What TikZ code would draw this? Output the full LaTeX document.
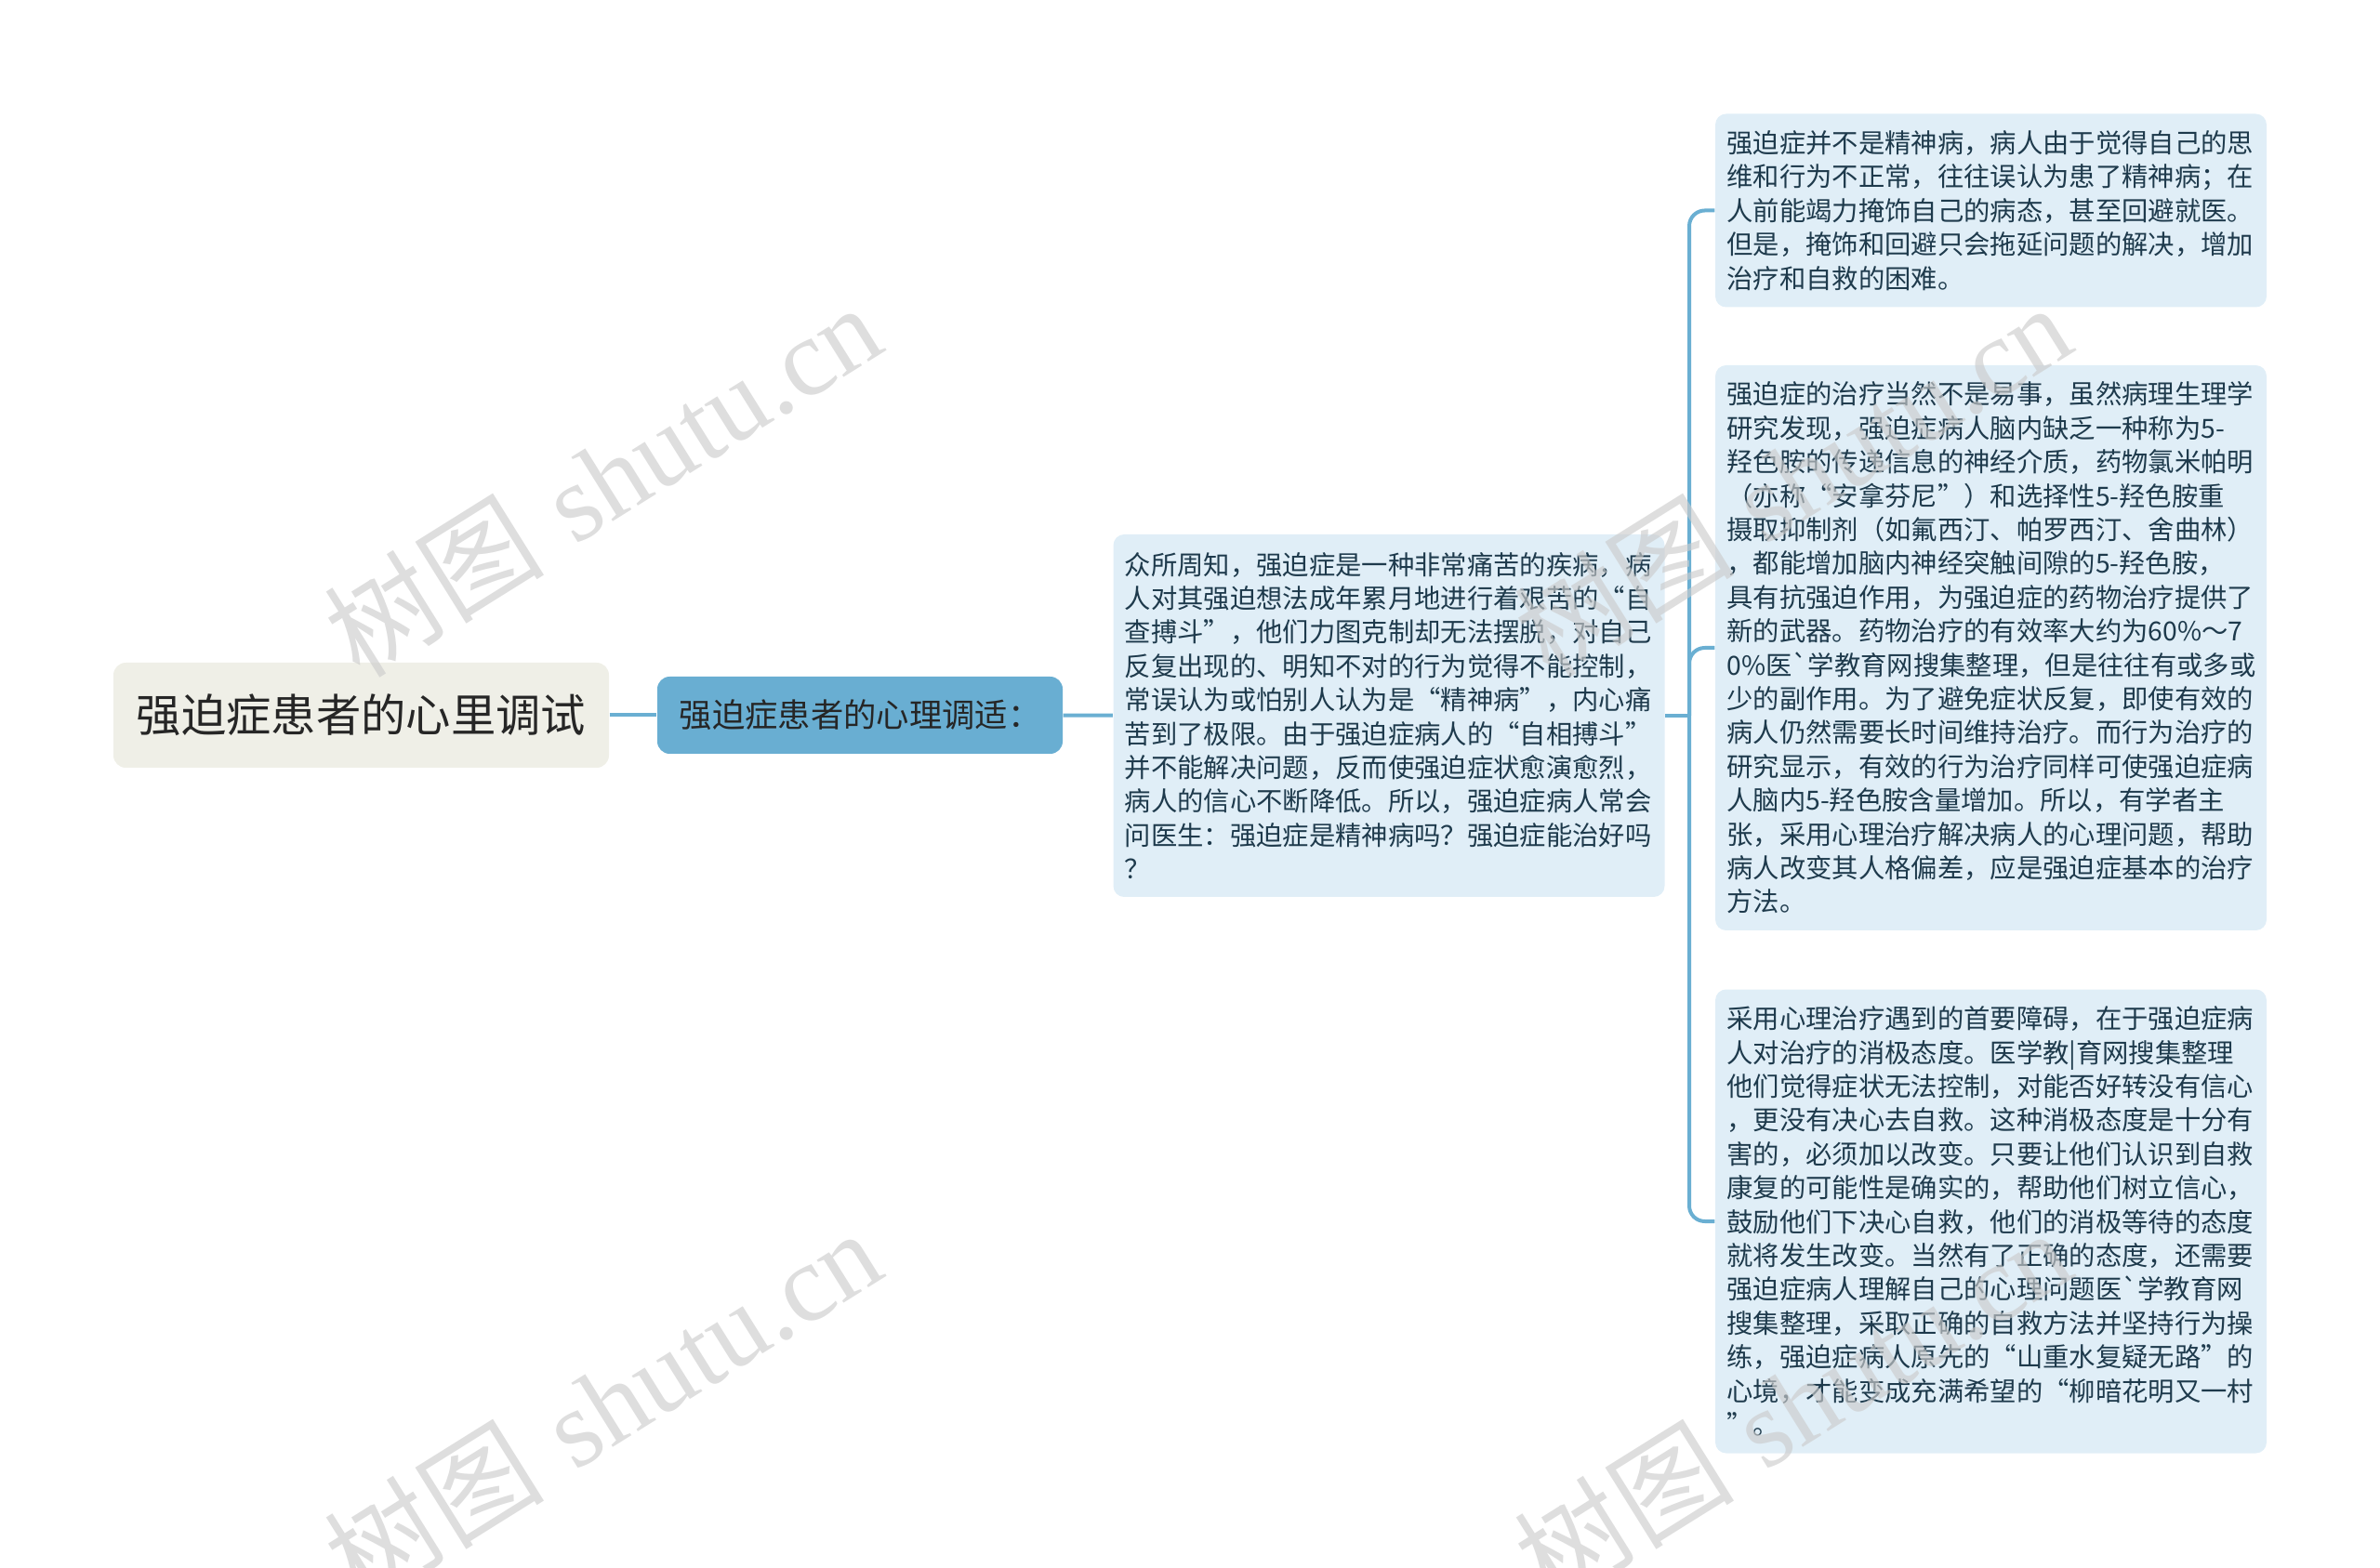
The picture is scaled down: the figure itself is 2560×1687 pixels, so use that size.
\documentclass[tikz,border=0pt]{standalone}
\usepackage{fontspec}
\usepackage{tikz}
\usetikzlibrary{positioning}
\newfontfamily\cjk{Noto Sans CJK SC}
\newfontfamily\wmlat{Liberation Serif}
\definecolor{linkblue}{HTML}{6AAFD2}
\definecolor{leaffill}{HTML}{E0EEF7}
\definecolor{leaftext}{HTML}{1E3A4C}
\definecolor{rootfill}{HTML}{EFEFE7}
\definecolor{subfill}{HTML}{69AED2}
\tikzset{
  link/.style={line width=1.2pt,draw=linkblue},
  rootnode/.style={fill=rootfill,rounded corners=4pt,minimum width=159.9pt,
    minimum height=33.9pt,inner sep=0pt,text=black!85,
    font=\cjk\fontsize{14.5}{17}\selectfont},
  subnode/.style={fill=subfill,rounded corners=4pt,minimum width=130.8pt,
    minimum height=24.9pt,inner sep=0pt,text=black!85,
    font=\cjk\fontsize{10.6}{13}\selectfont},
  leaf/.style={fill=leaffill,rounded corners=3.5pt,text width=170.5pt,
    inner xsep=3.7pt,align=left,text=leaftext,
    font=\cjk\fontsize{8.5}{10.92}\selectfont},
  wmark/.style={rotate=32,text=gray!40,opacity=0.65,
    font=\fontsize{35.5}{38}\selectfont}
}

\begin{document}
\begin{tikzpicture}[x=0.3pt,y=-0.3pt]
  \useasboundingbox (0,0) rectangle (2560,1687);
  \node[rootnode] (root) at (388.5,769.5) {强迫症患者的心里调试};
  \node[subnode] (sub) at (925,769.5) {强迫症患者的心理调适：};
  \node[leaf,minimum height=117pt] (mid) at (1494,770) {%
众所周知，强迫症是一种非常痛苦的疾病，病\\
人对其强迫想法成年累月地进行着艰苦的“自\\
查搏斗”，他们力图克制却无法摆脱，对自己\\
反复出现的、明知不对的行为觉得不能控制，\\
常误认为或怕别人认为是“精神病”，内心痛\\
苦到了极限。由于强迫症病人的“自相搏斗”\\
并不能解决问题，反而使强迫症状愈演愈烈，\\
病人的信心不断降低。所以，强迫症病人常会\\
问医生：强迫症是精神病吗？强迫症能治好吗\\
？};
  \node[leaf,minimum height=62.4pt] (tip1) at (2141.5,226.5) {%
强迫症并不是精神病，病人由于觉得自己的思\\
维和行为不正常，往往误认为患了精神病；在\\
人前能竭力掩饰自己的病态，甚至回避就医。\\
但是，掩饰和回避只会拖延问题的解决，增加\\
治疗和自救的困难。};
  \node[leaf,minimum height=182.4pt] (tip2) at (2141.5,697) {%
强迫症的治疗当然不是易事，虽然病理生理学\\
研究发现，强迫症病人脑内缺乏一种称为5-\\
羟色胺的传递信息的神经介质，药物氯米帕明\\
（亦称“安拿芬尼”）和选择性5-羟色胺重\\
摄取抑制剂（如氟西汀、帕罗西汀、舍曲林）\\
，都能增加脑内神经突触间隙的5-羟色胺，\\
具有抗强迫作用，为强迫症的药物治疗提供了\\
新的武器。药物治疗的有效率大约为60\%～7\\
0\%医`学教育网搜集整理，但是往往有或多或\\
少的副作用。为了避免症状反复，即使有效的\\
病人仍然需要长时间维持治疗。而行为治疗的\\
研究显示，有效的行为治疗同样可使强迫症病\\
人脑内5-羟色胺含量增加。所以，有学者主\\
张，采用心理治疗解决病人的心理问题，帮助\\
病人改变其人格偏差，应是强迫症基本的治疗\\
方法。};
  \node[leaf,minimum height=149.7pt] (tip3) at (2141.5,1314) {%
采用心理治疗遇到的首要障碍，在于强迫症病\\
人对治疗的消极态度。医学教|育网搜集整理\\
他们觉得症状无法控制，对能否好转没有信心\\
，更没有决心去自救。这种消极态度是十分有\\
害的，必须加以改变。只要让他们认识到自救\\
康复的可能性是确实的，帮助他们树立信心，\\
鼓励他们下决心自救，他们的消极等待的态度\\
就将发生改变。当然有了正确的态度，还需要\\
强迫症病人理解自己的心理问题医`学教育网\\
搜集整理，采取正确的自救方法并坚持行为操\\
练，强迫症病人原先的“山重水复疑无路”的\\
心境，才能变成充满希望的“柳暗花明又一村\\
”。};
  \coordinate (fork) at (1817,770);
  \draw[link] (root) -- (sub);
  \draw[link] (sub) -- (mid);
  \draw[link] (mid) -- (fork);
  \draw[link,rounded corners=5pt] (fork) |- (tip1);
  \draw[link,rounded corners=5pt] (fork) |- (tip2);
  \draw[link,rounded corners=5pt] (fork) |- (tip3);
  \node[wmark] (wm1) at (648,516) {{\cjk 树图} {\wmlat shutu.cn}};
  \node[wmark] (wm2) at (648,1512) {{\cjk 树图} {\wmlat shutu.cn}};
  \node[wmark] (wm3) at (1928,516) {{\cjk 树图} {\wmlat shutu.cn}};
  \node[wmark] (wm4) at (1928,1512) {{\cjk 树图} {\wmlat shutu.cn}};
\end{tikzpicture}
\end{document}
